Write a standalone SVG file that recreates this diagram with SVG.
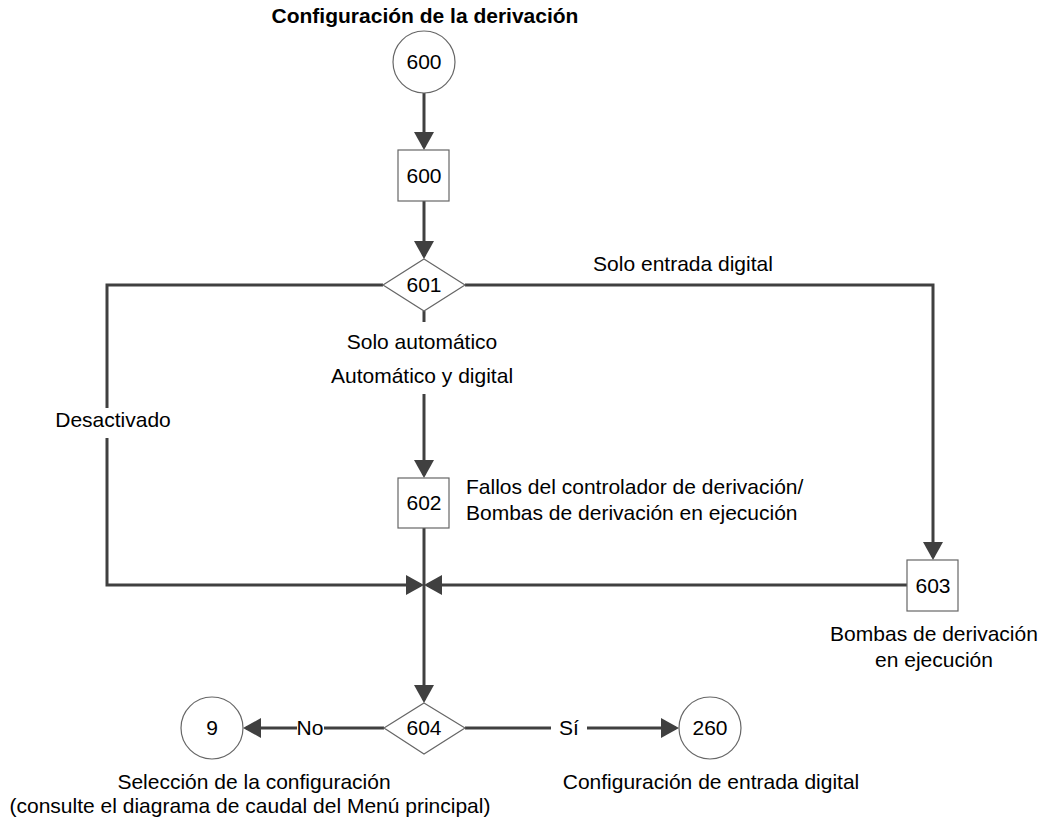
<svg xmlns="http://www.w3.org/2000/svg" width="1049" height="818" viewBox="0 0 1049 818">
  <style>
    text { font-family: "Liberation Sans", Arial, sans-serif; font-size: 21px; fill: #000; }
    .title { font-weight: bold; text-anchor: middle; }
    .c { text-anchor: middle; }
    .node { fill: #fff; stroke: #666; stroke-width: 1.2; }
    .edge { fill: none; stroke: #404040; stroke-width: 3; }
    .bg { fill: #fff; stroke: none; }
  </style>
  <defs>
    <marker id="arrow" markerUnits="userSpaceOnUse" markerWidth="18" markerHeight="20" refX="15" refY="10" orient="auto">
      <path d="M0,0 L18,10 L0,20 z" fill="#404040"/>
    </marker>
  </defs>

  <rect width="1049" height="818" fill="#fff"/>

  <text class="title" x="425" y="23">Configuración de la derivación</text>

  <!-- connectors -->
  <g id="connectors">
    <path class="edge" d="M424,93 L424,147" marker-end="url(#arrow)"/>
    <path class="edge" d="M424,201 L424,256" marker-end="url(#arrow)"/>
    <path class="edge" d="M383,285 L107,285 L107,585 L421,585" marker-end="url(#arrow)"/>
    <path class="edge" d="M465,285 L933,285 L933,557" marker-end="url(#arrow)"/>
    <path class="edge" d="M424,311 L424,322"/>
    <path class="edge" d="M424,394 L424,475" marker-end="url(#arrow)"/>
    <path class="edge" d="M907,585 L427,585" marker-end="url(#arrow)"/>
    <path class="edge" d="M424,528 L424,700" marker-end="url(#arrow)"/>
    <path class="edge" d="M384,728 L246,728" marker-end="url(#arrow)"/>
    <path class="edge" d="M465,728 L551,728"/>
    <path class="edge" d="M587,728 L676,728" marker-end="url(#arrow)"/>
    <!-- edge labels -->
    <rect class="bg" x="55" y="408" width="116" height="30"/>
    <text class="c" x="113" y="427">Desactivado</text>
    <text class="c" x="683" y="271">Solo entrada digital</text>
    <text class="c" x="422" y="349">Solo automático</text>
    <text class="c" x="422" y="383">Automático y digital</text>
    <rect class="bg" x="297" y="714" width="27" height="28"/>
    <text class="c" x="310" y="735">No</text>
    <text class="c" x="569" y="735">Sí</text>
  </g>

  <g id="n600-start">
    <circle class="node" cx="424" cy="62" r="31"/>
    <text class="c" x="424" y="69">600</text>
  </g>

  <g id="n600">
    <rect class="node" x="398" y="150" width="51" height="51"/>
    <text class="c" x="424" y="183">600</text>
  </g>

  <g id="n601">
    <polygon class="node" points="424,259 465,285 424,311 383,285"/>
    <text class="c" x="424" y="292">601</text>
  </g>

  <g id="n602">
    <rect class="node" x="398" y="478" width="51" height="50"/>
    <text class="c" x="424" y="510">602</text>
    <text x="466" y="494">Fallos del controlador de derivación/</text>
    <text x="466" y="520">Bombas de derivación en ejecución</text>
  </g>

  <g id="n603">
    <rect class="node" x="907" y="560" width="51" height="51"/>
    <text class="c" x="933" y="593">603</text>
    <text class="c" x="934" y="641">Bombas de derivación</text>
    <text class="c" x="934" y="667">en ejecución</text>
  </g>

  <g id="n604">
    <polygon class="node" points="424,703 465,728 424,754 384,728"/>
    <text class="c" x="424" y="735">604</text>
  </g>

  <g id="n9">
    <circle class="node" cx="212" cy="728" r="31"/>
    <text class="c" x="212" y="735">9</text>
    <text class="c" x="254" y="789">Selección de la configuración</text>
    <text class="c" x="250" y="813">(consulte el diagrama de caudal del Menú principal)</text>
  </g>

  <g id="n260">
    <circle class="node" cx="710" cy="728" r="31"/>
    <text class="c" x="710" y="735">260</text>
    <text class="c" x="711" y="789">Configuración de entrada digital</text>
  </g>
</svg>
